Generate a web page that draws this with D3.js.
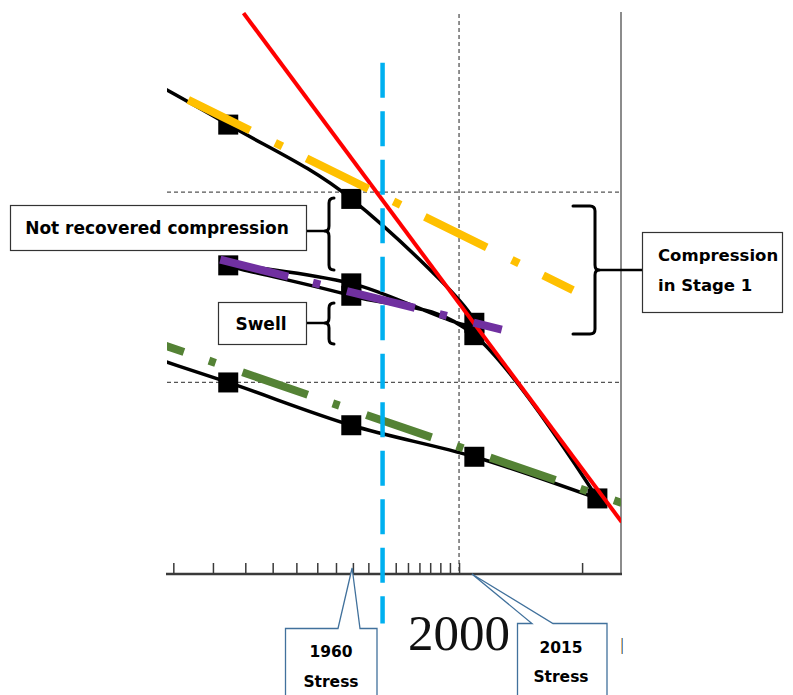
<!DOCTYPE html>
<html>
<head>
<meta charset="utf-8">
<script src="https://cdn.jsdelivr.net/npm/d3@7"></script>
<style>
  body { margin: 0; background: #fff; }
  svg { display: block; }
</style>
</head>
<body>
<svg id="chart" width="793" height="695"></svg>
<script>
// ---- data: oedometer test, void ratio e against log of effective stress ----
const tickStresses = [400, 500, 600, 700, 800, 900, 1000, 1100, 1200, 1300, 1400, 1500,
                      1600, 1700, 1800, 1900, 2000, 4000];
const axisLabel = "2000";

// load path in test order: loading, unload, reload, loading, final unload
const testStress = [272, 545, 1090, 2180, 1090, 545, 1090, 2180, 4360, 2180, 1090, 545, 272];
const testVoid   = [0.961, 0.900, 0.834, 0.724, 0.759, 0.775, 0.748, 0.713, 0.568, 0.605, 0.633, 0.671, 0.707];
const peakIndex  = 8;   // last loading step, start of the final unload

// virgin compression line
const virginStress = [594, 5000];
const virginVoid   = [0.999, 0.547];
// recompression line, stage 1
const recompStress = [435, 3800];
const recompVoid   = [0.922, 0.753];
// swell line
const swellStress  = [521, 2544];
const swellVoid    = [0.780, 0.718];
// rebound line after final load
const reboundStress = [294, 5000];
const reboundVoid   = [0.718, 0.564];

// preconsolidation marker
const preconStress = 1300;
const preconVoid   = [0.955, 0.457];

// reference levels and stress gridline
const refVoids  = [0.840, 0.671];
const refStress = 2000;

// stress callouts
const calloutYears  = ["1960", "2015"];
const calloutStress = [1095, 2150];

// ---- layout ----
const svg = d3.select("#chart");
const plot = { left: 167, right: 621, top: 12, bottom: 575 };

const x = d3.scaleLog().domain([386, 4980]).range([plot.left, plot.right]);
const y = d3.scaleLinear().domain([0.5, 1.0]).range([plot.bottom, plot.top]);

const FONT = "'DejaVu Sans', 'Open Sans', sans-serif";

svg.append("defs").append("clipPath").attr("id", "plotClip")
  .append("rect")
  .attr("x", plot.left).attr("y", plot.top)
  .attr("width", plot.right - plot.left).attr("height", plot.bottom - plot.top);

// gridlines
const grid = svg.append("g")
  .attr("stroke", "#555").attr("stroke-width", 1.3).attr("stroke-dasharray", "4,3");
grid.selectAll("line.h").data(refVoids).join("line")
  .attr("x1", plot.left).attr("x2", plot.right)
  .attr("y1", d => y(d)).attr("y2", d => y(d));
grid.append("line")
  .attr("x1", x(refStress)).attr("x2", x(refStress))
  .attr("y1", plot.top + 2).attr("y2", plot.bottom);

// right frame line
svg.append("line")
  .attr("x1", plot.right).attr("x2", plot.right)
  .attr("y1", plot.top).attr("y2", plot.bottom)
  .attr("stroke", "#8c8c8c").attr("stroke-width", 2);

// x axis with inward log ticks
const axis = svg.append("g")
  .attr("transform", `translate(0,${plot.bottom - 1})`)
  .call(d3.axisBottom(x).tickValues(tickStresses).tickFormat("")
        .tickSizeInner(-11).tickSizeOuter(0));
axis.select(".domain").attr("stroke", "#3a3a3a").attr("stroke-width", 2.5)
  .attr("d", `M${plot.left - 1},0H${plot.right + 1}`);
axis.selectAll(".tick line").attr("stroke", "#3a3a3a").attr("stroke-width", 1.5);

svg.append("text")
  .attr("x", x(refStress)).attr("y", 650)
  .attr("text-anchor", "middle")
  .attr("font-family", "'Liberation Serif', 'Times New Roman', serif")
  .attr("font-size", 51).attr("fill", "#111")
  .text(axisLabel);
svg.append("text")
  .attr("x", plot.right + 1).attr("y", 650)
  .attr("text-anchor", "middle")
  .attr("font-family", "'Liberation Serif', serif")
  .attr("font-size", 16).attr("fill", "#111")
  .text("|");

// ---- series ----
const pts = (s, e) => s.map((v, i) => [v, e[i]]);
const straight = d3.line().x(d => x(d[0])).y(d => y(d[1]));
const smooth = d3.line().x(d => x(d[0])).y(d => y(d[1])).curve(d3.curveCardinal.tension(0));

const marks = svg.append("g").attr("clip-path", "url(#plotClip)");

const testPts = pts(testStress, testVoid);
// loading / unload-reload branch, then the final unload branch
[testPts.slice(0, peakIndex + 1), testPts.slice(peakIndex)].forEach(branch => {
  marks.append("path")
    .attr("d", smooth(branch))
    .attr("fill", "none").attr("stroke", "#000").attr("stroke-width", 3.5)
    .attr("stroke-linejoin", "round");
});

const sq = 20;
marks.selectAll("rect.pt")
  .data(testPts.filter(d => d[0] >= x.domain()[0] && d[0] <= x.domain()[1]))
  .join("rect")
  .attr("x", d => x(d[0]) - sq / 2).attr("y", d => y(d[1]) - sq / 2)
  .attr("width", sq).attr("height", sq).attr("fill", "#000");

marks.append("path")
  .attr("d", straight(pts(virginStress, virginVoid)))
  .attr("fill", "none").attr("stroke", "#ff0000").attr("stroke-width", 4);

const dashDot = (data, color, pattern) => marks.append("path")
  .attr("d", straight(data))
  .attr("fill", "none").attr("stroke", color).attr("stroke-width", 8)
  .attr("stroke-linecap", "butt").attr("stroke-dasharray", pattern);

dashDot(pts(reboundStress, reboundVoid), "#548235", "69,26.5,7,28.5");
dashDot(pts(recompStress, recompVoid), "#ffc000", "69,28,8,27");
dashDot(pts(swellStress, swellVoid), "#7030a0", "70,25.5,7.5,27.5");

// preconsolidation stress marker
svg.append("line")
  .attr("x1", x(preconStress)).attr("x2", x(preconStress))
  .attr("y1", y(preconVoid[0])).attr("y2", y(preconVoid[1]))
  .attr("stroke", "#00b0f0").attr("stroke-width", 4.5)
  .attr("stroke-dasharray", "35,13.5");

// ---- annotations ----
function bracePath(tipX, spineX, endX, y0, y1, ym) {
  const r = 5, s = Math.sign(endX - spineX);
  return `M${endX},${y0} L${spineX + s * r},${y0} Q${spineX},${y0} ${spineX},${y0 + r}` +
         ` L${spineX},${ym - r} Q${spineX},${ym} ${tipX},${ym} Q${spineX},${ym} ${spineX},${ym + r}` +
         ` L${spineX},${y1 - r} Q${spineX},${y1} ${spineX + s * r},${y1} L${endX},${y1}`;
}
const ann = svg.append("g");
const braceStyle = sel => sel.attr("fill", "none").attr("stroke", "#000")
  .attr("stroke-width", 3).attr("stroke-linejoin", "round").attr("stroke-linecap", "round");

// not recovered compression
ann.append("rect").attr("x", 10.5).attr("y", 205.5).attr("width", 296).attr("height", 45)
  .attr("fill", "#fff").attr("stroke", "#333").attr("stroke-width", 1.2);
ann.append("text").attr("x", 157).attr("y", 234).attr("text-anchor", "middle")
  .attr("font-family", FONT).attr("font-weight", "bold").attr("font-size", 17)
  .text("Not recovered compression");
ann.append("line").attr("x1", 307).attr("x2", 326).attr("y1", 231).attr("y2", 231)
  .attr("stroke", "#000").attr("stroke-width", 2.5);
ann.append("path").attr("d", bracePath(325, 329, 334, 198, 270, 231)).call(braceStyle);

// swell
ann.append("rect").attr("x", 218.5).attr("y", 302.5).attr("width", 88).attr("height", 42)
  .attr("fill", "#fff").attr("stroke", "#333").attr("stroke-width", 1.2);
ann.append("text").attr("x", 261).attr("y", 330).attr("text-anchor", "middle")
  .attr("font-family", FONT).attr("font-weight", "bold").attr("font-size", 17)
  .text("Swell");
ann.append("line").attr("x1", 307).attr("x2", 326).attr("y1", 323).attr("y2", 323)
  .attr("stroke", "#000").attr("stroke-width", 2.5);
ann.append("path").attr("d", bracePath(325, 329, 334, 303, 344, 323)).call(braceStyle);

// compression in stage 1
ann.append("rect").attr("x", 642.5).attr("y", 232.5).attr("width", 140).attr("height", 80)
  .attr("fill", "#fff").attr("stroke", "#333").attr("stroke-width", 1.2);
ann.append("text").attr("x", 658).attr("y", 261)
  .attr("font-family", FONT).attr("font-weight", "bold").attr("font-size", 16.5)
  .text("Compression");
ann.append("text").attr("x", 658).attr("y", 291)
  .attr("font-family", FONT).attr("font-weight", "bold").attr("font-size", 16.5)
  .text("in Stage 1");
ann.append("line").attr("x1", 597).attr("x2", 642).attr("y1", 270).attr("y2", 270)
  .attr("stroke", "#000").attr("stroke-width", 2.5);
ann.append("path").attr("d", bracePath(599, 595, 573, 206, 334, 270)).call(braceStyle);

// stress callouts below the axis
const callouts = [
  { left: 285.5, right: 377, top: 628.5, baseL: 338, baseR: 360, tipY: 568, cx: 331, textY: [657, 687] },
  { left: 517.5, right: 607, top: 623.5, baseL: 532, baseR: 553, tipY: 574, cx: 561, textY: [653, 682] }
];
callouts.forEach((c, i) => {
  const tipX = x(calloutStress[i]);
  const g = svg.append("g");
  g.append("path")
    .attr("d", `M${c.left},${700} L${c.left},${c.top} L${c.baseL},${c.top} L${tipX},${c.tipY}` +
               ` L${c.baseR},${c.top} L${c.right},${c.top} L${c.right},${700}`)
    .attr("fill", "#fff").attr("stroke", "#41719c").attr("stroke-width", 1.3)
    .attr("stroke-linejoin", "miter");
  g.append("text").attr("x", c.cx).attr("y", c.textY[0]).attr("text-anchor", "middle")
    .attr("font-family", FONT).attr("font-weight", "bold").attr("font-size", 15.5)
    .text(calloutYears[i]);
  g.append("text").attr("x", c.cx).attr("y", c.textY[1]).attr("text-anchor", "middle")
    .attr("font-family", FONT).attr("font-weight", "bold").attr("font-size", 15.5)
    .text("Stress");
});
</script>
</body>
</html>
